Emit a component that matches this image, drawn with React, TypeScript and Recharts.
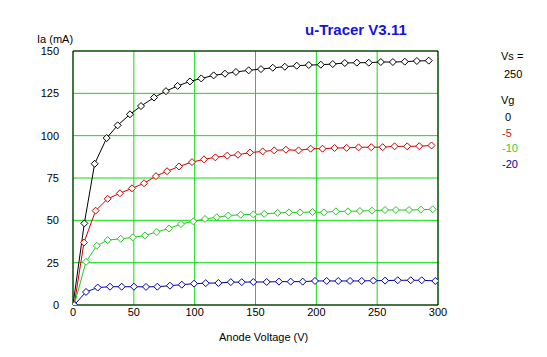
import React from "react";
import { LineChart, Line, XAxis, YAxis, CartesianGrid, ReferenceLine } from "recharts";

// anode voltage (V) / anode current (mA) per grid voltage
const vg0V = [0, 9.3, 17.8, 27.7, 36.7, 46.8, 55.9, 66.6, 76.4, 86.0, 96.1, 105.4, 115.6, 124.9, 133.9, 144.4, 154.5, 164.2, 174.1, 183.9, 193.8, 203.7, 213.5, 223.4, 233.3, 243.1, 253.0, 262.9, 272.7, 282.6, 292.4];
const vg0I = [0, 48.2, 83.4, 98.6, 106.1, 112.6, 117.5, 122.5, 126.3, 129.4, 132.0, 133.8, 135.6, 136.6, 137.6, 138.6, 139.3, 140.1, 140.7, 141.3, 141.7, 141.9, 142.3, 142.9, 143.1, 143.1, 143.5, 143.5, 143.7, 144.1, 144.3];

const vg5V = [1, 9, 18.6, 28.5, 38.6, 48.5, 58.4, 68.2, 77.3, 87.1, 97.8, 107.7, 117, 126.8, 135.6, 145.5, 155.9, 165.4, 175, 185.4, 195.3, 205.1, 215, 224.9, 234.7, 245.1, 254.5, 264.3, 274.7, 284.6, 294.7];
const vg5I = [0, 36.9, 55.7, 62.7, 66, 68.9, 71.9, 76.1, 79, 81.8, 84.4, 86, 87.2, 88.2, 88.7, 90, 90.7, 91.3, 91.7, 91.3, 92.3, 92.3, 92.7, 92.8, 93.1, 93.2, 93.2, 93.7, 93.7, 93.8, 94.2];

const vg10V = [1, 10.7, 19.5, 28.5, 39.2, 49.1, 59.2, 68.8, 78.9, 88.8, 98.9, 108.5, 118.1, 127.6, 137.8, 148.2, 157.2, 168.2, 177.5, 186.6, 196.9, 206.3, 216.1, 226, 235.8, 245.7, 256.4, 265.4, 276.2, 286, 295.6];
const vg10I = [0, 25.5, 35, 38.3, 39.1, 39.9, 41.1, 43.1, 45.2, 47.8, 49.4, 50.8, 51.8, 52.8, 53.3, 53.5, 53.8, 54.4, 54.7, 54.7, 54.9, 54.7, 55.3, 55.3, 55.5, 55.7, 56.1, 56.1, 56.1, 56.3, 56.5];

const vg20V = [1, 10.7, 20.3, 30.4, 40, 50.1, 60, 69.3, 79.7, 89.4, 99.5, 109.1, 119.5, 129.7, 138.7, 148.2, 159.2, 169.3, 178.9, 188.8, 198.9, 208.5, 218, 227.7, 237.3, 246.9, 256.5, 266.9, 277.6, 286.6, 297.8];
const vg20I = [0, 7.7, 10.3, 10.8, 10.8, 10.8, 10.7, 10.8, 11.4, 12, 12.6, 12.9, 13, 13.5, 13.5, 13.6, 13.6, 13.8, 13.8, 13.8, 14.2, 14.2, 14.2, 14.2, 14.2, 14.4, 14.4, 14.6, 14.6, 14.6, 14.2];

const xTicks = [0, 50, 100, 150, 200, 250, 300];
const yTicks = [0, 25, 50, 75, 100, 125, 150];

const series = [
  { name: "0", v: vg0V, i: vg0I, color: "#000000", legend: "#000000" },
  { name: "-5", v: vg5V, i: vg5I, color: "#cc0000", legend: "#cc2020" },
  { name: "-10", v: vg10V, i: vg10I, color: "#22c822", legend: "#33cc33" },
  { name: "-20", v: vg20V, i: vg20I, color: "#0000aa", legend: "#000099" },
];

const font = "'Liberation Sans', Arial, sans-serif";

const Diamond = (props: any) => {
  const { cx, cy, stroke, index } = props;
  if (cx == null || cy == null) return <g key={index} />;
  const r = 3.5;
  return (
    <polygon
      key={`d-${index}`}
      points={`${cx},${cy - r} ${cx + r},${cy} ${cx},${cy + r} ${cx - r},${cy}`}
      fill="#ffffff"
      stroke={stroke}
      strokeWidth={1}
    />
  );
};

const YTick = (props: any) => {
  const { x, y, payload } = props;
  return (
    <text x={x} y={y + 4} textAnchor="end" fontSize={11} fontFamily={font} fill="#000">
      {payload.value}
    </text>
  );
};

const XTick = (props: any) => {
  const { x, y, payload } = props;
  return (
    <text x={x} y={y + 9} textAnchor="middle" fontSize={11} fontFamily={font} fill="#000">
      {payload.value}
    </text>
  );
};

const txt = (left: number, top: number, text: string, color = "#000", extra: React.CSSProperties = {}) => (
  <div
    style={{
      position: "absolute",
      left,
      top,
      fontFamily: font,
      fontSize: 11,
      lineHeight: "13px",
      color,
      whiteSpace: "nowrap",
      ...extra,
    }}
  >
    {text}
  </div>
);

export default function App() {
  return (
    <div style={{ position: "absolute", left: 0, top: 0, width: 547, height: 357, background: "#fff" }}>
      <LineChart width={547} height={357} margin={{ top: 51, right: 109, left: 0, bottom: 0 }}>
        <CartesianGrid stroke="#10dd10" horizontalValues={yTicks} verticalValues={xTicks} />
        <XAxis
          type="number"
          dataKey="v"
          domain={[0, 300]}
          ticks={xTicks}
          height={52}
          tickSize={0}
          tick={<XTick />}
          axisLine={{ stroke: "#000" }}
          allowDataOverflow
        />
        <YAxis
          type="number"
          domain={[0, 150]}
          ticks={yTicks}
          width={73}
          tickSize={0}
          tickMargin={14}
          tick={<YTick />}
          axisLine={{ stroke: "#000" }}
          allowDataOverflow
        />
        <ReferenceLine y={150} stroke="#000" />
        <ReferenceLine x={300} stroke="#000" />
        {series.map((s) => (
          <Line
            key={s.name}
            data={s.v.map((v, k) => ({ v, i: s.i[k] }))}
            dataKey="i"
            stroke={s.color}
            strokeWidth={1}
            type="linear"
            dot={(p: any) => <Diamond {...p} stroke={s.color} />}
            activeDot={false}
            isAnimationActive={false}
          />
        ))}
      </LineChart>
      {txt(305, 21, "u-Tracer V3.11", "#1414dc", { fontSize: 15, fontWeight: "bold", lineHeight: "18px" })}
      {txt(37, 33, "Ia (mA)")}
      {txt(219, 331, "Anode Voltage (V)")}
      {txt(501, 50, "Vs =")}
      {txt(504, 68, "250")}
      {txt(501, 94, "Vg")}
      {series.map((s, k) => (
        <React.Fragment key={s.name}>
          {txt(s.name === "0" ? 505 : 502, 111 + k * 15.5, s.name, s.legend)}
        </React.Fragment>
      ))}
    </div>
  );
}
